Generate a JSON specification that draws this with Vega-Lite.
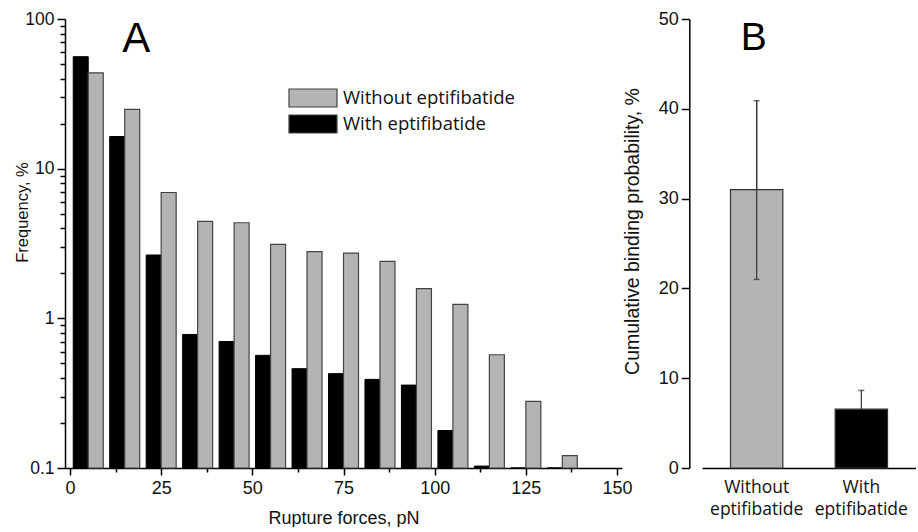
{
  "$schema": "https://vega.github.io/schema/vega-lite/v6.json",
  "background": "white",
  "padding": {"left": 14, "top": 10, "right": 0, "bottom": 0},
  "bounds": "flush",
  "spacing": 80,
  "config": {
    "view": {"stroke": null},
    "axis": {
      "grid": false,
      "domainColor": "#000",
      "domainWidth": 1.5,
      "tickColor": "#000",
      "tickWidth": 1.5,
      "labelColor": "#111",
      "titleColor": "#111",
      "labelFont": "Liberation Sans",
      "titleFont": "Liberation Sans",
      "titleFontWeight": "normal"
    }
  },
  "resolve": {"scale": {"color": "shared"}},
  "hconcat": [
    {
      "width": 557,
      "height": 449,
      "data": {
        "values": [
          {"force": 5, "series": "With eptifibatide", "freq": 56},
          {"force": 15, "series": "With eptifibatide", "freq": 16.4},
          {"force": 25, "series": "With eptifibatide", "freq": 2.65},
          {"force": 35, "series": "With eptifibatide", "freq": 0.78},
          {"force": 45, "series": "With eptifibatide", "freq": 0.70},
          {"force": 55, "series": "With eptifibatide", "freq": 0.566},
          {"force": 65, "series": "With eptifibatide", "freq": 0.461},
          {"force": 75, "series": "With eptifibatide", "freq": 0.427},
          {"force": 85, "series": "With eptifibatide", "freq": 0.391},
          {"force": 95, "series": "With eptifibatide", "freq": 0.358},
          {"force": 105, "series": "With eptifibatide", "freq": 0.178},
          {"force": 115, "series": "With eptifibatide", "freq": 0.103},
          {"force": 125, "series": "With eptifibatide", "freq": 0.1},
          {"force": 135, "series": "With eptifibatide", "freq": 0.1},
          {"force": 5, "series": "Without eptifibatide", "freq": 43.7},
          {"force": 15, "series": "Without eptifibatide", "freq": 24.9},
          {"force": 25, "series": "Without eptifibatide", "freq": 6.93},
          {"force": 35, "series": "Without eptifibatide", "freq": 4.45},
          {"force": 45, "series": "Without eptifibatide", "freq": 4.35},
          {"force": 55, "series": "Without eptifibatide", "freq": 3.12},
          {"force": 65, "series": "Without eptifibatide", "freq": 2.79},
          {"force": 75, "series": "Without eptifibatide", "freq": 2.73},
          {"force": 85, "series": "Without eptifibatide", "freq": 2.40},
          {"force": 95, "series": "Without eptifibatide", "freq": 1.58},
          {"force": 105, "series": "Without eptifibatide", "freq": 1.24},
          {"force": 115, "series": "Without eptifibatide", "freq": 0.571},
          {"force": 125, "series": "Without eptifibatide", "freq": 0.279},
          {"force": 135, "series": "Without eptifibatide", "freq": 0.121}
        ]
      },
      "layer": [
        {
          "transform": [{"filter": "datum.series == 'With eptifibatide'"}],
          "mark": {"type": "bar", "width": 15, "xOffset": -7.5, "stroke": "#000", "strokeWidth": 1},
          "encoding": {
            "x": {
              "field": "force", "type": "quantitative",
              "scale": {"domain": [0, 150], "nice": false, "zero": false},
              "axis": {
                "values": [0, 12.5, 25, 37.5, 50, 62.5, 75, 87.5, 100, 112.5, 125, 137.5, 150],
                "labelExpr": "datum.value % 25 == 0 ? datum.label : ''",
                "tickSize": {"condition": {"test": "datum.value % 25 == 0", "value": 7}, "value": 4},
                "labelFontSize": 18,
                "labelPadding": 4,
                "labelFlush": false,
                "labelOverlap": false,
                "title": "Rupture forces, pN",
                "titleFontSize": 18,
                "titlePadding": 12
              }
            },
            "y": {
              "field": "freq", "type": "quantitative",
              "scale": {"type": "log", "domain": [0.1, 100], "nice": false},
              "axis": {
                "values": [0.1, 0.2, 0.3, 0.4, 0.5, 0.6, 0.7, 0.8, 0.9, 1, 2, 3, 4, 5, 6, 7, 8, 9, 10, 20, 30, 40, 50, 60, 70, 80, 90, 100],
                "labelExpr": "indexof([0.1, 1, 10, 100], datum.value) >= 0 ? format(datum.value, '~g') : ''",
                "tickSize": {"condition": {"test": "indexof([0.1, 1, 10, 100], datum.value) >= 0", "value": 8}, "value": 5},
                "labelFontSize": 17.5,
                "labelPadding": 3,
                "labelOverlap": false,
                "labelFlush": false,
                "title": "Frequency, %",
                "titleFontSize": 16.5,
                "titleX": -35,
                "titleY": 193
              }
            },
            "y2": {"datum": 0.1},
            "color": {
              "field": "series", "type": "nominal",
              "scale": {"domain": ["Without eptifibatide", "With eptifibatide"], "range": ["#b4b4b4", "#000000"]},
              "legend": {
                "title": null,
                "orient": "none",
                "legendX": 223,
                "legendY": 69,
                "padding": 0,
                "symbolType": "M-2.667,-1H2.667V1H-2.667Z",
                "symbolSize": 324,
                "symbolOffset": 15,
                "labelOffset": 20,
                "labelLimit": 400,
                "symbolStrokeColor": "#444",
                "symbolStrokeWidth": 1.2,
                "labelFont": "Open Sans",
                "labelFontSize": 18.5,
                "labelColor": "#111",
                "rowPadding": 2
              }
            }
          }
        },
        {
          "transform": [{"filter": "datum.series == 'Without eptifibatide'"}],
          "mark": {"type": "bar", "width": 15, "xOffset": 7.5, "stroke": "#444", "strokeWidth": 1.2},
          "encoding": {
            "x": {"field": "force", "type": "quantitative"},
            "y": {"field": "freq", "type": "quantitative"},
            "y2": {"datum": 0.1},
            "color": {"field": "series", "type": "nominal"}
          }
        },
        {
          "data": {"values": [{"label": "A"}]},
          "mark": {"type": "text", "font": "Liberation Sans", "fontSize": 42, "baseline": "alphabetic", "align": "center", "color": "#000"},
          "encoding": {
            "x": {"datum": 18.2, "type": "quantitative"},
            "y": {"datum": 60, "type": "quantitative"},
            "text": {"field": "label"}
          }
        }
      ]
    },
    {
      "width": 214,
      "height": 449,
      "data": {
        "values": [
          {"series": "Without eptifibatide", "prob": 31, "lo": 21, "hi": 40.9},
          {"series": "With eptifibatide", "prob": 6.55, "lo": 4.46, "hi": 8.64}
        ]
      },
      "layer": [
        {
          "mark": {"type": "rule", "color": "#333", "strokeWidth": 1.2},
          "encoding": {
            "x": {
              "field": "series", "type": "nominal",
              "sort": ["Without eptifibatide", "With eptifibatide"],
              "scale": {"paddingInner": 0.5, "paddingOuter": 0.272},
              "axis": {
                "title": null,
                "ticks": false,
                "labelAngle": 0,
                "labelAlign": "center",
                "labelExpr": "split(datum.label, ' ')",
                "labelFont": "Open Sans",
                "labelFontSize": 17.5,
                "labelLineHeight": 22,
                "labelPadding": 10
              }
            },
            "y": {
              "field": "lo", "type": "quantitative",
              "scale": {"domain": [0, 50], "nice": false},
              "axis": {
                "values": [0, 10, 20, 30, 40, 50],
                "tickSize": 8,
                "offset": 12.7,
                "labelFontSize": 18,
                "labelPadding": 3,
                "title": "Cumulative binding probability, %",
                "titleFontSize": 19.5,
                "titleX": -47,
                "titleY": 212
              }
            },
            "y2": {"field": "hi"}
          }
        },
        {
          "mark": {"type": "tick", "color": "#333", "size": 6, "thickness": 1.5},
          "encoding": {
            "x": {"field": "series", "type": "nominal", "sort": ["Without eptifibatide", "With eptifibatide"]},
            "y": {"field": "hi", "type": "quantitative"}
          }
        },
        {
          "mark": {"type": "bar", "stroke": "#333", "strokeWidth": 1.2},
          "encoding": {
            "x": {"field": "series", "type": "nominal", "sort": ["Without eptifibatide", "With eptifibatide"]},
            "y": {"field": "prob", "type": "quantitative"},
            "color": {"field": "series", "type": "nominal"}
          }
        },
        {
          "transform": [{"filter": "datum.series == 'Without eptifibatide'"}],
          "mark": {"type": "rule", "color": "#333", "strokeWidth": 1.2},
          "encoding": {
            "x": {"field": "series", "type": "nominal", "sort": ["Without eptifibatide", "With eptifibatide"]},
            "y": {"field": "lo", "type": "quantitative"},
            "y2": {"field": "hi"}
          }
        },
        {
          "transform": [{"filter": "datum.series == 'Without eptifibatide'"}],
          "mark": {"type": "tick", "color": "#333", "size": 6, "thickness": 1.5},
          "encoding": {
            "x": {"field": "series", "type": "nominal", "sort": ["Without eptifibatide", "With eptifibatide"]},
            "y": {"field": "lo", "type": "quantitative"}
          }
        },
        {
          "data": {"values": [{"label": "B"}]},
          "mark": {"type": "text", "font": "Liberation Sans", "fontSize": 39, "baseline": "alphabetic", "align": "center", "color": "#000", "dx": -3},
          "encoding": {
            "x": {"datum": "Without eptifibatide", "type": "nominal"},
            "y": {"datum": 46.6, "type": "quantitative"},
            "text": {"field": "label"}
          }
        }
      ]
    }
  ]
}
